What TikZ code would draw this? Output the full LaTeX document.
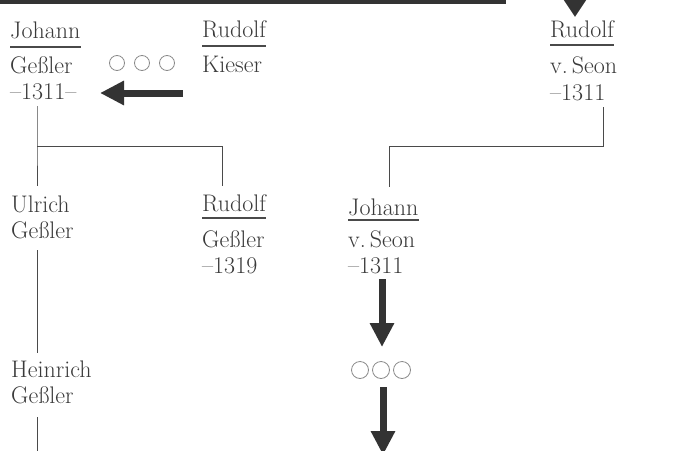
\documentclass[tikz,border=0pt]{standalone}
\usetikzlibrary{arrows.meta}
\definecolor{ink}{HTML}{3A3A3A}
\definecolor{lineink}{HTML}{4A4A4A}
\definecolor{fatink}{HTML}{333333}
\definecolor{ringink}{HTML}{8A8A8A}
\tikzset{
  t/.style={anchor=base west, inner sep=0pt, text=ink, font=\fontsize{24}{25}\selectfont},
  namerule/.style={draw=lineink, line width=1.2pt},
  conn/.style={draw=lineink, line width=0.9pt},
  fat/.style={draw=fatink, line width=7pt, -{Triangle[width=23pt,length=24pt]}},
  ring/.style={circle, draw=ringink, line width=0.8pt, inner sep=0pt, minimum size=#1},
}
\begin{document}
\begin{tikzpicture}[x=1pt,y=-1pt]
\useasboundingbox (0,0) rectangle (687,450);
\clip (0,0) rectangle (687,450);
% top bar
\fill[fatink] (0,0) rectangle (506,4);
% top arrow coming into Rudolf v. Seon
\coordinate (topin) at (575,-40);
\coordinate (topout) at (575,17);
\draw[draw=fatink, line width=7pt, -{Triangle[width=25pt,length=20pt]}] (topin) -- (topout);

% Johann Geßler
\node[t] (jgA) at (10,38) {Johann};
\node[t] (jgB) at (10,73) {Geßler};
\node[t] (jgC) at (10,99) {\textendash1311\textendash};
\draw[namerule] ([yshift=-9pt]jgA.base west) -- ([yshift=-9pt]jgA.base east);

% rings between
\node[ring=15pt] (r1) at (117,63) {};
\node[ring=15pt] (r2) at (142,63) {};
\node[ring=15pt] (r3) at (167,63) {};

% Rudolf Kieser
\node[t] (rkA) at (202,37) {Rudolf};
\node[t] (rkB) at (202,72) {Kieser};
\draw[namerule] ([yshift=-9pt]rkA.base west) -- ([yshift=-9pt]rkA.base east);

% left arrow
\coordinate (la1) at (183,93);
\coordinate (la2) at (100,93);
\draw[fat] (la1) -- (la2);

% Rudolf v. Seon
\node[t] (rsA) at (550,37) {Rudolf};
\node[t] (rsB) at (550,73) {v.\,Seon};
\node[t] (rsC) at (550,100) {\textendash1311};
\draw[namerule] ([yshift=-8pt]rsA.base west) -- ([yshift=-8pt]rsA.base east);

% Ulrich Geßler
\node[t] (ugA) at (11,212) {Ulrich};
\node[t] (ugB) at (11,238) {Geßler};

% Rudolf Geßler
\node[t] (rgA) at (202,211) {Rudolf};
\node[t] (rgB) at (202,247) {Geßler};
\node[t] (rgC) at (202,273) {\textendash1319};
\draw[namerule] ([yshift=-7pt]rgA.base west) -- ([yshift=-7pt]rgA.base east);

% Johann v. Seon
\node[t] (jsA) at (348,215) {Johann};
\node[t] (jsB) at (348,247) {v.\,Seon};
\node[t] (jsC) at (348,273) {\textendash1311};
\draw[namerule] ([yshift=-5pt]jsA.base west) -- ([yshift=-5pt]jsA.base east);

% Heinrich Geßler
\node[t] (hgA) at (11,377) {Heinrich};
\node[t] (hgB) at (11,403) {Geßler};

% lower rings
\node[ring=17pt] (s1) at (360,370) {};
\node[ring=17pt] (s2) at (381,370) {};
\node[ring=17pt] (s3) at (402,370) {};

% connectors, left family
\coordinate (forkL) at (37,146);
\coordinate (forkR) at (222,146);
\draw[conn] (37,106) -- (forkL) -- (37,186);
\draw[conn] (forkL) -- (forkR) -- (222,186);
\draw[conn] (37,250) -- (37,353);
\draw[conn] (37,417) -- (37,455);

% connectors, right family
\coordinate (forkS) at (603,146);
\coordinate (forkJ) at (389,146);
\draw[conn] (603,107) -- (forkS) -- (forkJ) -- (389,187);

% down arrows
\coordinate (d1a) at (382,279);
\coordinate (d1b) at (382,347);
\draw[fat] (d1a) -- (d1b);
\coordinate (d2a) at (383,387);
\coordinate (d2b) at (383,455);
\draw[fat] (d2a) -- (d2b);
\end{tikzpicture}
\end{document}
